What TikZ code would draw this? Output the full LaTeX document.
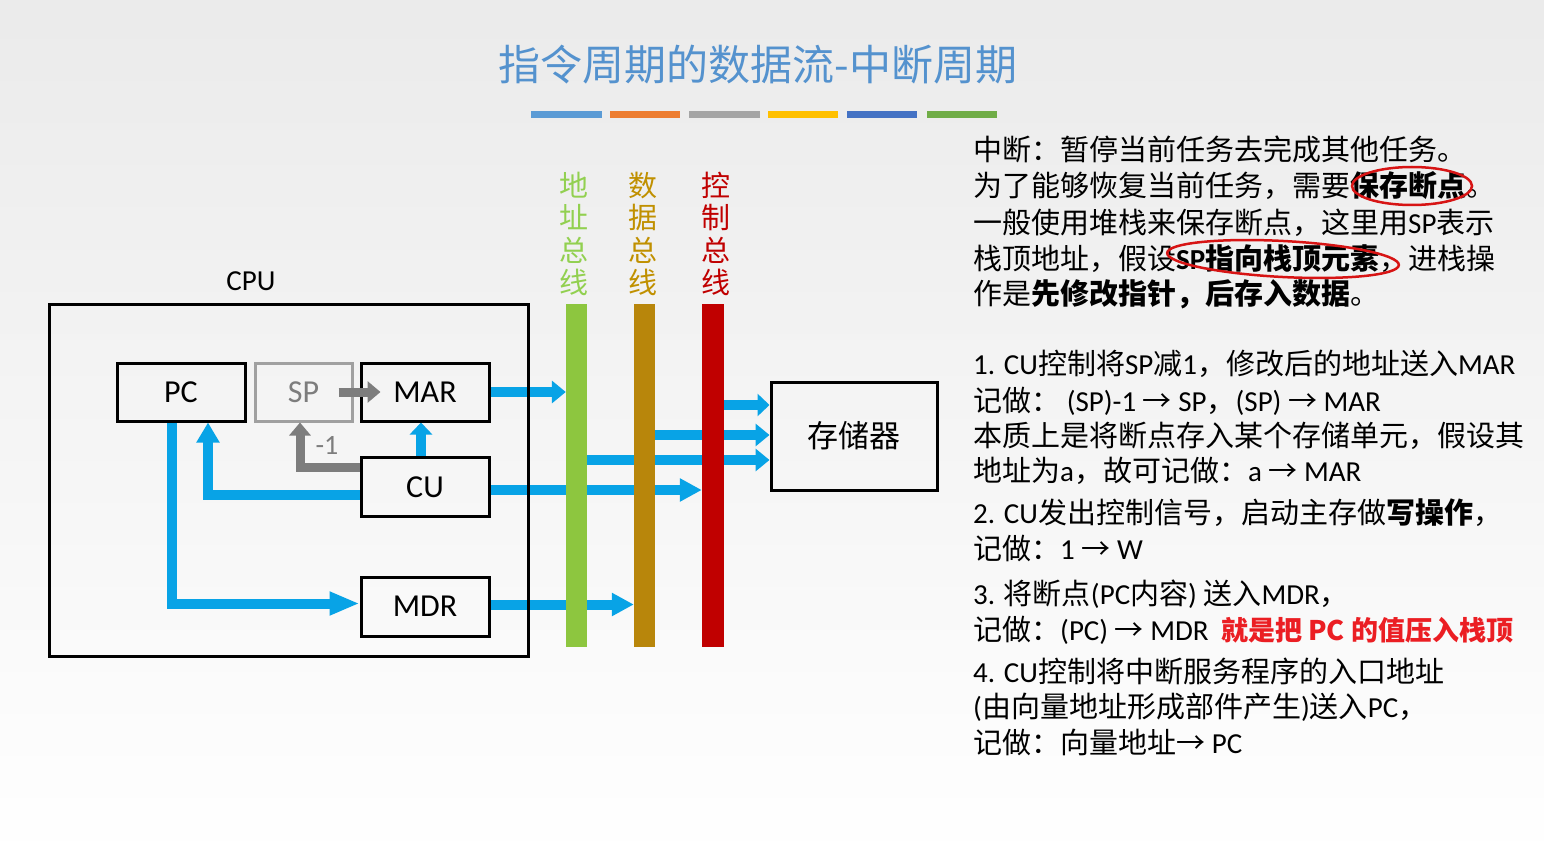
\documentclass[tikz,border=0pt]{standalone}
\usepackage{fontspec}
\setmainfont{Noto Sans CJK SC}
\newfontfamily\lat{Carlito}
\usetikzlibrary{arrows.meta,calc}
\definecolor{titleblue}{RGB}{84,146,206}
\definecolor{arrowblue}{RGB}{8,163,230}
\definecolor{busgreen}{RGB}{141,198,63}
\definecolor{busgold}{RGB}{184,134,11}
\definecolor{busred}{RGB}{192,0,0}
\definecolor{lblgreen}{RGB}{146,208,80}
\definecolor{lblgold}{RGB}{192,144,0}
\definecolor{garr}{RGB}{125,125,125}
\definecolor{spgray}{RGB}{160,160,160}
\definecolor{redtext}{RGB}{235,30,35}
\definecolor{inkred}{RGB}{215,20,20}
\definecolor{c1}{RGB}{91,155,213}
\definecolor{c2}{RGB}{237,125,49}
\definecolor{c3}{RGB}{165,165,165}
\definecolor{c4}{RGB}{255,192,0}
\definecolor{c5}{RGB}{68,114,196}
\definecolor{c6}{RGB}{112,173,71}
\newcommand\E[1]{{\lat #1}}
\newcommand\fs[1]{\fontsize{#1}{#1}\selectfont}
\pgfdeclarelayer{back}\pgfdeclarelayer{mid}\pgfsetlayers{back,mid,main}
\begin{document}
\begin{tikzpicture}[x=1pt,y=-1pt,
  box/.style={draw=black,line width=3pt,inner sep=0pt,font=\lat\fs{32}},
  bus/.style={inner sep=0pt,minimum height=343pt},
  buslbl/.style={inner sep=0pt,align=center,font=\fontsize{29}{32.5}\selectfont},
  txt/.style={anchor=west,inner sep=0pt,font=\fs{29}},
  barrow/.style={draw=arrowblue,line width=10pt,line join=miter,-{Triangle[length=#1,width=22pt]}},
  barrow/.default=18pt,
  garrow/.style={draw=garr,line width=9pt,line join=miter,-{Triangle[length=13pt,width=21pt]}},
  ink/.style={draw=inkred,line width=2.5pt}
]
\useasboundingbox (0,0) rectangle (1544,861);
\begin{pgfonlayer}{back}
\shade[top color=black!8,middle color=black!4,bottom color=white] (0,0) rectangle (1544,861);
\end{pgfonlayer}

% title and colour bars
\node[font=\fs{42},text=titleblue,inner sep=0pt] (title) at (758,65) {指令周期的数据流-中断周期};
\fill[c1] (531,111) rectangle (602,118);
\fill[c2] (610,111) rectangle (680,118);
\fill[c3] (689,111) rectangle (760,118);
\fill[c4] (768,111) rectangle (838,118);
\fill[c5] (847,111) rectangle (917,118);
\fill[c6] (927,111) rectangle (997,118);

% CPU
\node[font=\lat\fs{29},inner sep=0pt] (cpulbl) at (251,281) {CPU};
\node[draw=black,line width=3pt,minimum width=479pt,minimum height=352pt,inner sep=0pt] (cpu) at (288.5,480) {};
\node[box,minimum width=128pt,minimum height=58pt] (PC) at (181,392) {PC};
\node[box,draw=spgray,text=garr,minimum width=97pt,minimum height=58pt] (SP) at (303.5,392) {SP};
\node[box,minimum width=128pt,minimum height=58pt] (MAR) at (425,392) {MAR};
\node[box,minimum width=128pt,minimum height=59pt] (CU) at (425,487) {CU};
\node[box,minimum width=128pt,minimum height=59pt] (MDR) at (425,606.5) {MDR};
\node[text=garr,font=\lat\fs{28},inner sep=0pt] (m1lbl) at (327,445) {-1};

% buses
\node[bus,fill=busgreen,minimum width=21pt] (abus) at (576.5,475) {};
\node[bus,fill=busgold,minimum width=21pt] (dbus) at (644.5,475) {};
\node[bus,fill=busred,minimum width=22pt] (cbus) at (713,475) {};
\node[buslbl,text=lblgreen] (albl) at (574,234) {地\\址\\总\\线};
\node[buslbl,text=lblgold] (dlbl) at (643,234) {数\\据\\总\\线};
\node[buslbl,text=busred] (clbl) at (716,234) {控\\制\\总\\线};

% memory
\node[draw=black,line width=3pt,minimum width=166pt,minimum height=108pt,inner sep=0pt,font=\fs{31}] (mem) at (854,436) {存储器};
\coordinate (mA) at ([yshift=31pt]mem.west);
\coordinate (mB) at ([yshift=1pt]mem.west);
\coordinate (mC) at ([yshift=-24pt]mem.west);
\coordinate (spstart) at ([xshift=-15pt]SP.east);
\coordinate (spend) at ([xshift=21pt]MAR.west);

\begin{pgfonlayer}{mid}
\draw[barrow=14pt] (MAR.east) -- (MAR.east -| abus.west);
\draw[barrow=22pt] ([yshift=-3pt]CU.east) -- ([yshift=-3pt]CU.east -| cbus.west);
\draw[barrow=22pt] ([yshift=2pt]MDR.east) -- ([yshift=2pt]MDR.east -| dbus.west);
\draw[barrow=20pt] ([yshift=-8pt]CU.west) -| ([xshift=27pt]PC.south);
\draw[barrow=30pt] ([xshift=-9pt]PC.south) |- ([yshift=3pt]MDR.west);
\draw[barrow=12pt] ([xshift=-4pt]CU.north) -- ([xshift=-4pt]MAR.south);
\draw[barrow=12pt] (mA -| cbus.east) -- (mA);
\draw[barrow=14pt] (mB -| dbus.east) -- (mB);
\draw[barrow=14pt] (mC -| abus.east) -- (mC);
\end{pgfonlayer}
\draw[garrow] (spstart) -- (spend);
\draw[garrow] ([yshift=19.5pt]CU.west) -| ([xshift=-3.5pt]SP.south);

% right text
\node[txt] (t1) at (973,149) {中断：暂停当前任务去完成其他任务。};
\node[txt] (t2) at (973,186) {为了能够恢复当前任务，需要{\bfseries 保存断点}。};
\node[txt] (t3) at (973,223) {一般使用堆栈来保存断点，这里用\E{SP}表示};
\node[txt] (t4) at (973,259) {栈顶地址，假设{\bfseries\E{SP}指向栈顶元素}，进栈操};
\node[txt] (t5) at (973,294) {作是{\bfseries 先修改指针，后存入数据}。};
\node[txt] (t6) at (973,364) {\E{1. CU}控制将\E{SP}减\E{1}，修改后的地址送入\E{MAR}};
\node[txt] (t7) at (973,401) {记做：\E{ (SP)-1 }→\E{ SP}，\E{(SP) }→\E{ MAR}};
\node[txt] (t8) at (973,436) {本质上是将断点存入某个存储单元，假设其};
\node[txt] (t9) at (973,471) {地址为\E{a}，故可记做：\E{a }→\E{ MAR}};
\node[txt] (t10) at (973,513) {\E{2. CU}发出控制信号，启动主存做{\bfseries 写操作}，};
\node[txt] (t11) at (973,548) {记做：\E{1 }→\E{ W}};
\node[txt] (t12) at (973,594) {\E{3. }将断点\E{(PC}内容\E{) }送入\E{MDR}，};
\node[txt] (t13) at (973,630) {记做：\E{(PC) }→\E{ MDR}};
\node[txt,text=redtext,font=\fs{27}\bfseries] (t13r) at (1221,630) {就是把 PC 的值压入栈顶};
\node[txt] (t14) at (973,671) {\E{4. CU}控制将中断服务程序的入口地址};
\node[txt] (t15) at (973,707) {\E{(}由向量地址形成部件产生\E{)}送入\E{PC}，};
\node[txt] (t16) at (973,742) {记做：向量地址→\E{ PC}};

% hand-drawn red marks
\draw[ink] (1412,186) ellipse [x radius=60pt,y radius=19pt];
\draw[ink,rotate around={-3:(1283,259)}] (1283,259) ellipse [x radius=116pt,y radius=18pt];
\end{tikzpicture}
\end{document}
